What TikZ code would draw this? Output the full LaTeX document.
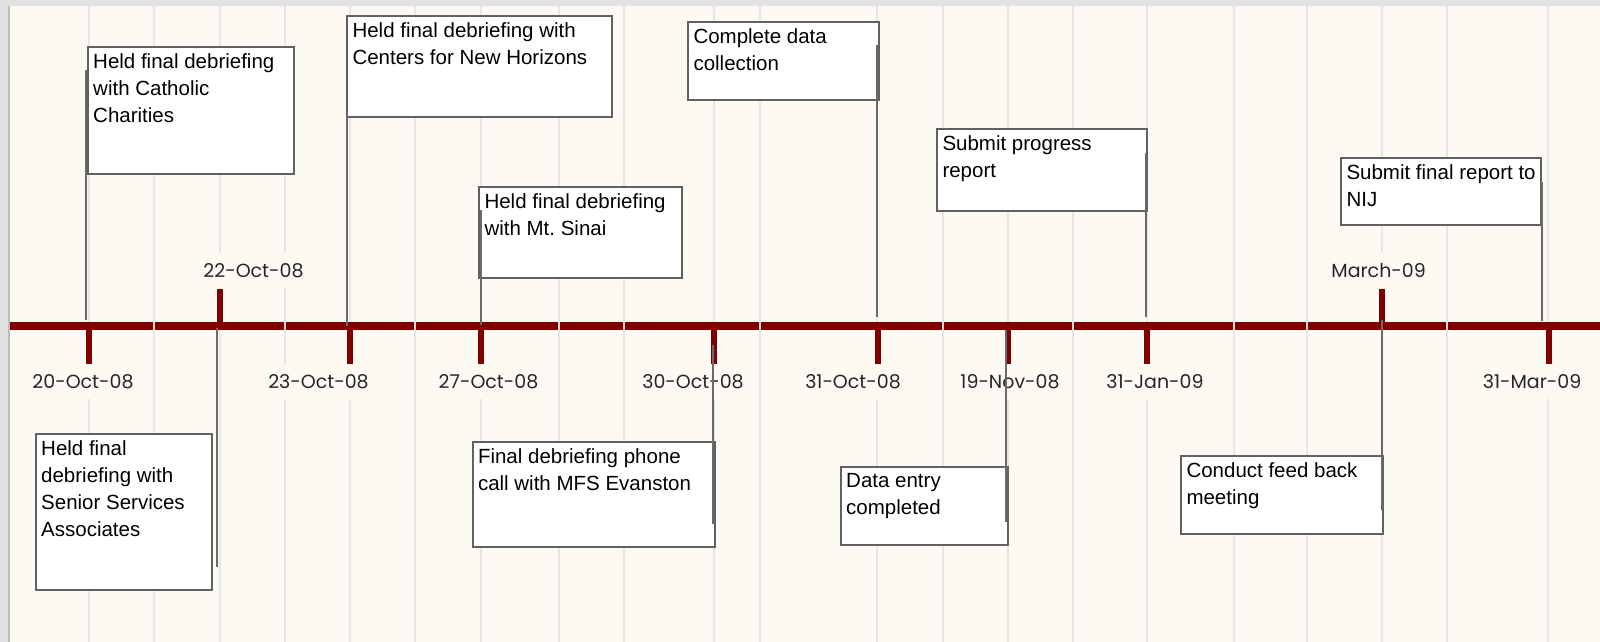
\documentclass[tikz,border=0pt]{standalone}
\usepackage{fontspec}
\setmainfont{Liberation Sans}
\newfontfamily\datefont{Poppins}
\usetikzlibrary{calc}
\frenchspacing
\definecolor{cream}{HTML}{FCFAF2}
\definecolor{framegray}{HTML}{E2E2E2}
\definecolor{frameline}{HTML}{BDBDBD}
\definecolor{stripegray}{HTML}{E6E6E6}
\definecolor{boxgray}{HTML}{616161}
\definecolor{conngray}{HTML}{6A6A6A}
\definecolor{axisred}{HTML}{800000}
\newcommand\evtext[3]{\parbox[t][#2pt][t]{#1pt}{\raggedright #3}}
\tikzset{
  evbox/.style={draw=boxgray, line width=2pt, fill=white, anchor=north west,
    inner xsep=5.5pt, inner ysep=6.5pt, outer sep=0pt,
    font=\fontsize{20.5}{27}\selectfont},
  conn/.style={draw=conngray, line width=2pt},
  datelbl/.style={fill=cream, anchor=base, inner xsep=3pt, inner ysep=9pt,
    text height=15pt, text depth=2pt, font=\datefont\fontsize{19}{23}\selectfont,
    text=black!85},
  stripe/.style={draw=stripegray, line width=2.6pt},
  axisgap/.style={draw=stripegray!70!axisred!40, line width=1.2pt},
  ticksty/.style={draw=axisred, line width=5.5pt},
  axissty/.style={draw=axisred, line width=8pt}
}
\begin{document}
\begin{tikzpicture}[x=1pt,y=-1pt]
\useasboundingbox (0,0) rectangle (1600,642);
% background
\fill[framegray] (0,0) rectangle (1600,642);
\fill[cream] (10,6) rectangle (1600,642);
\draw[frameline, line width=2pt] (9,6) -- (9,642);
% stripes
\foreach \sx in {89,154,220,285,350,415,481,559,624,714,760,877,943,1008,1073,1147,1234,1307,1382,1447,1548}
  \draw[stripe] (\sx,6) -- (\sx,642);
% axis
\coordinate (axl) at (10,326);
\coordinate (axr) at (1600,326);
\draw[axissty] (axl) -- (axr);
\foreach \gx in {154,285,415,559,624,760,943,1073,1234,1307,1447}
  \draw[axisgap] (\gx,322) -- (\gx,330);
% tick coordinates
\coordinate (t20) at (89,326);
\coordinate (t22) at (220,326);
\coordinate (t23) at (350,326);
\coordinate (t27) at (481,326);
\coordinate (t30) at (714,326);
\coordinate (t31) at (878,326);
\coordinate (t19) at (1008,326);
\coordinate (tjan) at (1147,326);
\coordinate (tmch) at (1382,326);
\coordinate (tmar) at (1549,326);
% ticks
\foreach \tk in {t20,t23,t27,t30,t31,t19,tjan,tmar}
  \draw[ticksty] (\tk) -- ++(0,38);
\foreach \tk in {t22,tmch}
  \draw[ticksty] (\tk) -- ++(0,-37);
% date labels
\node[datelbl] (l20) at (83,388) {20-Oct-08};
\node[datelbl] (l22) at (253.5,277) {22-Oct-08};
\node[datelbl] (l23) at (318.5,388) {23-Oct-08};
\node[datelbl] (l27) at (488.5,388) {27-Oct-08};
\node[datelbl] (l30) at (693,388) {30-Oct-08};
\node[datelbl] (l31) at (853,388) {31-Oct-08};
\node[datelbl] (l19) at (1010,388) {19-Nov-08};
\node[datelbl] (ljan) at (1155,388) {31-Jan-09};
\node[datelbl] (lmch) at (1378.6,277) {March-09};
\node[datelbl] (lmar) at (1532,388) {31-Mar-09};
% event boxes
\node[evbox] (b1) at (87.7,46.7) {\evtext{195.3}{114.3}{\mbox{Held final debriefing}\\\mbox{with Catholic}\\\mbox{Charities}}};
\node[evbox] (b2) at (35.7,434) {\evtext{165.6}{143}{\mbox{Held final}\\\mbox{debriefing with}\\\mbox{Senior Services}\\\mbox{Associates}}};
\node[evbox] (b3) at (347,15.7) {\evtext{254}{88.3}{\mbox{Held final debriefing with}\\\mbox{Centers for New Horizons}}};
\node[evbox] (b4) at (479,187) {\evtext{192}{78}{\mbox{Held final debriefing}\\\mbox{with Mt.\ Sinai}}};
\node[evbox] (b5) at (688,22) {\evtext{180}{65}{\mbox{Complete data}\\\mbox{collection}}};
\node[evbox] (b6) at (472.5,441.7) {\evtext{231.3}{92}{\mbox{Final debriefing phone}\\\mbox{call with MFS Evanston}}};
\node[evbox] (b7) at (840.7,467) {\evtext{156.6}{65}{\mbox{Data entry}\\\mbox{completed}}};
\node[evbox] (b8) at (937,129) {\evtext{199}{69}{\mbox{Submit progress}\\\mbox{report}}};
\node[evbox] (b9) at (1341,158.3) {\evtext{188.7}{53.4}{\mbox{Submit final report to}\\\mbox{NIJ}}};
\node[evbox] (b10) at (1181,456) {\evtext{190.7}{65}{\mbox{Conduct feed back}\\\mbox{meeting}}};
% connectors
\draw[conn] ($(b1.north west)+(-1.7,23.3)$) -- ($(b1.north west |- t20)+(-1.7,-6)$);
\draw[conn] ($(b2.north east |- t22)+(4.2,2)$) -- ($(b2.north east)+(4.2,133)$);
\draw[conn] (b3.south west) -- (b3.south west |- t23);
\draw[conn] ($(b4.north west)+(2,23)$) -- ($(b4.north west |- t27)+(2,-1)$);
\draw[conn] ($(b5.north east)+(-2,23)$) -- ($(b5.north east |- t31)+(-2,-9)$);
\draw[conn] ($(b6.north east |- t30)+(-1.8,19)$) -- ($(b6.north east)+(-1.8,82.3)$);
\draw[conn] ($(b7.north east |- t19)+(-2.3,4)$) -- ($(b7.north east)+(-2.3,55)$);
\draw[conn] ($(b8.north east)+(-1.3,23.7)$) -- ($(b8.north east |- tjan)+(-1.3,-9)$);
\draw[conn] ($(b9.north east)+(1.3,23.4)$) -- ($(b9.north east |- tmar)+(1.3,-5)$);
\draw[conn] ($(b10.north east |- tmch)+(-0.7,-6)$) -- ($(b10.north east)+(-0.7,54)$);
\end{tikzpicture}
\end{document}
